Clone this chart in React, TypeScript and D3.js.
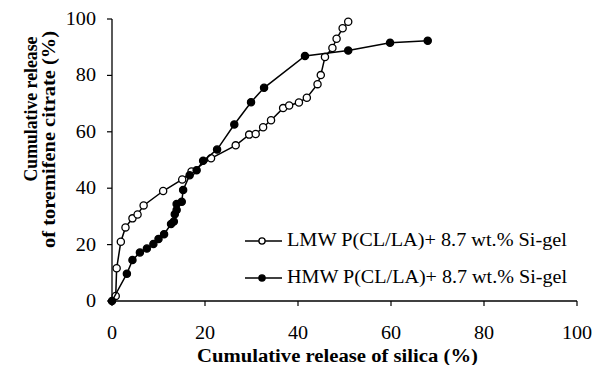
import * as d3 from 'd3';

// Cumulative release of silica (%), x values
const lmwSilica = [0.8, 1.0, 1.9, 2.9, 4.4, 5.5, 6.8, 11.0, 15.1, 17.1, 21.3, 26.6, 29.5, 30.9, 32.5, 34.2, 36.8, 38.1, 40.2, 41.9, 44.2, 44.9, 45.8, 47.4, 48.3, 49.6, 50.8];
// Cumulative release of toremifene citrate (%), y values
const lmwDrug = [1.8, 11.6, 21.0, 26.1, 29.3, 30.7, 33.9, 39.0, 43.1, 45.9, 50.6, 55.2, 59.0, 59.2, 61.6, 64.1, 68.4, 69.3, 70.4, 72.1, 76.9, 80.1, 86.5, 89.7, 93.0, 96.7, 99.0];

const hmwSilica = [0, 3.2, 4.4, 6.0, 7.5, 8.9, 10.0, 11.2, 12.7, 13.3, 13.5, 13.9, 13.9, 15.0, 15.3, 16.7, 18.2, 19.6, 22.6, 26.3, 29.9, 32.7, 41.5, 50.8, 59.8, 67.9];
const hmwDrug = [0, 9.7, 14.5, 17.2, 18.6, 20.2, 22.0, 23.7, 27.3, 28.2, 30.8, 32.3, 34.4, 35.2, 39.4, 44.6, 46.4, 49.7, 53.7, 62.6, 70.5, 75.6, 86.9, 88.8, 91.6, 92.3];

const xTicks = [0, 20, 40, 60, 80, 100];
const yTicks = [0, 20, 40, 60, 80, 100];

const seriesNames = ['LMW P(CL/LA)+ 8.7 wt.% Si-gel', 'HMW P(CL/LA)+ 8.7 wt.% Si-gel'];

const W = 592;
const H = 365;
const margin = { top: 19, right: 15, bottom: 64, left: 112 };
const font = '"Liberation Serif", "Times New Roman", Times, serif';

export default function App() {
  const x = d3.scaleLinear().domain([0, 100]).range([margin.left, W - margin.right]);
  const y = d3.scaleLinear().domain([0, 100]).range([H - margin.bottom, margin.top]);

  const line = d3
    .line<[number, number]>()
    .x((d) => x(d[0]))
    .y((d) => y(d[1]));

  const lmw: [number, number][] = lmwSilica.map((v, i) => [v, lmwDrug[i]]);
  const hmw: [number, number][] = hmwSilica.map((v, i) => [v, hmwDrug[i]]);

  const series = [
    { name: seriesNames[0], pts: lmw, fill: '#fff' },
    { name: seriesNames[1], pts: hmw, fill: '#000' },
  ];

  return (
    <svg
      width={W}
      height={H}
      style={{ position: 'absolute', left: 0, top: 0, background: '#fff', fontFamily: font }}
    >
      {/* axes */}
      <line x1={x(0)} x2={x(0)} y1={y(0)} y2={y(100)} stroke="#000" strokeWidth={1.3} />
      <line x1={x(0)} x2={x(100)} y1={y(0)} y2={y(0)} stroke="#000" strokeWidth={1.3} />
      {yTicks.map((t) => (
        <g key={'y' + t}>
          <line x1={x(0) - 5} x2={x(0)} y1={y(t)} y2={y(t)} stroke="#000" strokeWidth={1.2} />
          <text
            transform={`translate(${x(0) - 16},${y(t) + 6}) scale(1.12,1)`}
            textAnchor="end"
            fontSize={18}
          >
            {t}
          </text>
        </g>
      ))}
      {xTicks.map((t) => (
        <g key={'x' + t}>
          <line x1={x(t)} x2={x(t)} y1={y(0)} y2={y(0) + 5} stroke="#000" strokeWidth={1.2} />
          <text
            transform={`translate(${x(t)},${y(0) + 38}) scale(1.12,1)`}
            textAnchor="middle"
            fontSize={18}
          >
            {t}
          </text>
        </g>
      ))}
      <text
        x={197}
        y={361.5}
        fontSize={18.5}
        fontWeight="bold"
        textLength={281}
        lengthAdjust="spacingAndGlyphs"
      >
        Cumulative release of silica (%)
      </text>
      <text
        transform={`translate(37,109) rotate(-90)`}
        textAnchor="middle"
        fontSize={19.5}
        fontWeight="bold"
        textLength={145}
        lengthAdjust="spacingAndGlyphs"
      >
        Cumulative release
      </text>
      <text
        transform={`translate(55,139.5) rotate(-90)`}
        textAnchor="middle"
        fontSize={19.5}
        fontWeight="bold"
        textLength={217}
        lengthAdjust="spacingAndGlyphs"
      >
        of toremifene citrate (%)
      </text>

      {/* series */}
      {series.map((s) => (
        <g key={s.name}>
          <path d={line(s.pts) || ''} fill="none" stroke="#000" strokeWidth={1.5} />
          {s.pts.map((p, i) => (
            <circle key={i} cx={x(p[0])} cy={y(p[1])} r={3.6} fill={s.fill} stroke="#000" strokeWidth={1.3} />
          ))}
        </g>
      ))}

      {/* legend */}
      {series.map((s, i) => {
        const ly = 241 + i * 37;
        return (
          <g key={'leg' + i}>
            <line x1={245} x2={282} y1={ly} y2={ly} stroke="#000" strokeWidth={1.5} />
            <circle cx={262} cy={ly} r={3.1} fill={s.fill} stroke="#000" strokeWidth={1.3} />
            <text x={287} y={ly + 5} fontSize={18} textLength={280} lengthAdjust="spacingAndGlyphs">
              {s.name}
            </text>
          </g>
        );
      })}
    </svg>
  );
}
